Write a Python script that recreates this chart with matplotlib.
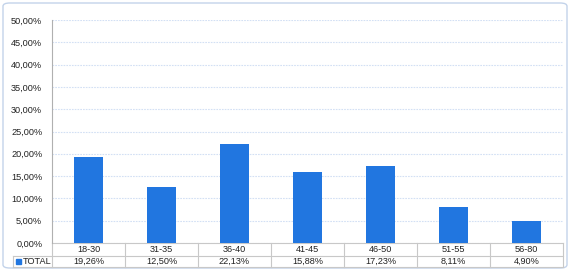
import matplotlib.pyplot as plt
import matplotlib.transforms as mtransforms
from matplotlib.patches import FancyBboxPatch, Rectangle
from matplotlib.ticker import FuncFormatter

# Data
categories = ['18-30', '31-35', '36-40', '41-45', '46-50', '51-55', '56-80']
total = [19.26, 12.50, 22.13, 15.88, 17.23, 8.11, 4.90]
series_name = 'TOTAL'

W, H = 571, 271
bar_color = '#2176e0'
grid_color = '#d3e0f4'
table_color = '#c8c8c8'
font = 'Liberation Sans'
fs = 6.6

fig = plt.figure(figsize=(W / 100, H / 100), dpi=100)

# Outer rounded frame (behind everything)
frame = FancyBboxPatch((3 / W, 3 / H), 564 / W, 265 / H,
                       boxstyle='round,pad=0,rounding_size=0.012',
                       transform=fig.transFigure, facecolor='white',
                       edgecolor='#c3d3ea', linewidth=1.0, zorder=-10)
fig.patches.append(frame)

# Plot area in pixels: left 52, right 563, top 20, bottom 243
left, right, top, bottom = 52, 563, 20, 243
ax = fig.add_axes([left / W, (H - bottom) / H, (right - left) / W, (bottom - top) / H])
ax.set_facecolor('none')

x = range(len(categories))
ax.bar(x, [v / 100 for v in total], width=0.41, color=bar_color, zorder=3)

ax.set_xlim(-0.5, len(categories) - 0.5)
ax.set_ylim(0, 0.5)
ax.set_yticks([i * 0.05 for i in range(11)])
ax.yaxis.set_major_formatter(FuncFormatter(lambda v, p: f'{v * 100:.2f}%'.replace('.', ',')))
ax.set_xticks([])
ax.tick_params(axis='y', length=0, pad=7, labelsize=fs, labelcolor='#222222')
for lab in ax.get_yticklabels():
    lab.set_fontfamily(font)
ax.grid(axis='y', color=grid_color, linestyle=(0, (1.5, 1)), linewidth=0.8, zorder=0)
for side in ['top', 'right', 'bottom']:
    ax.spines[side].set_visible(False)
ax.spines['left'].set_color('#b0b0b0')
ax.spines['left'].set_linewidth(0.8)

# Data table under the plot
ah = bottom - top
aw = right - left
row1 = -13 / ah
row2 = -24 / ah
lab_left = (13 - left) / aw
blend = mtransforms.blended_transform_factory(ax.transData, ax.transAxes)
lw = 0.8

ax.plot([-0.5, len(categories) - 0.5], [0, 0], transform=blend, color=table_color, lw=lw, clip_on=False)
ax.plot([lab_left, 1], [row1, row1], transform=ax.transAxes, color=table_color, lw=lw, clip_on=False)
ax.plot([lab_left, 1], [row2, row2], transform=ax.transAxes, color=table_color, lw=lw, clip_on=False)
ax.plot([lab_left, lab_left], [row1, row2], transform=ax.transAxes, color=table_color, lw=lw, clip_on=False)
for i in range(len(categories) + 1):
    ax.plot([i - 0.5, i - 0.5], [0, row2], transform=blend, color=table_color, lw=lw, clip_on=False)

for i, (c, v) in enumerate(zip(categories, total)):
    ax.text(i, row1 / 2, c, transform=blend, ha='center', va='center', fontsize=fs,
            family=font, color='#222222')
    ax.text(i, (row1 + row2) / 2, f'{v:.2f}%'.replace('.', ','), transform=blend,
            ha='center', va='center', fontsize=fs, family=font, color='#222222')

ax.add_patch(Rectangle((lab_left + 3 / aw, (row1 + row2) / 2 - 2.5 / ah), 5 / aw, 5 / ah,
                       transform=ax.transAxes, color=bar_color, clip_on=False))
ax.text(lab_left + 10 / aw, (row1 + row2) / 2, series_name, transform=ax.transAxes,
        ha='left', va='center', fontsize=fs, family=font, color='#222222')

fig.savefig('out.png', dpi=100)
